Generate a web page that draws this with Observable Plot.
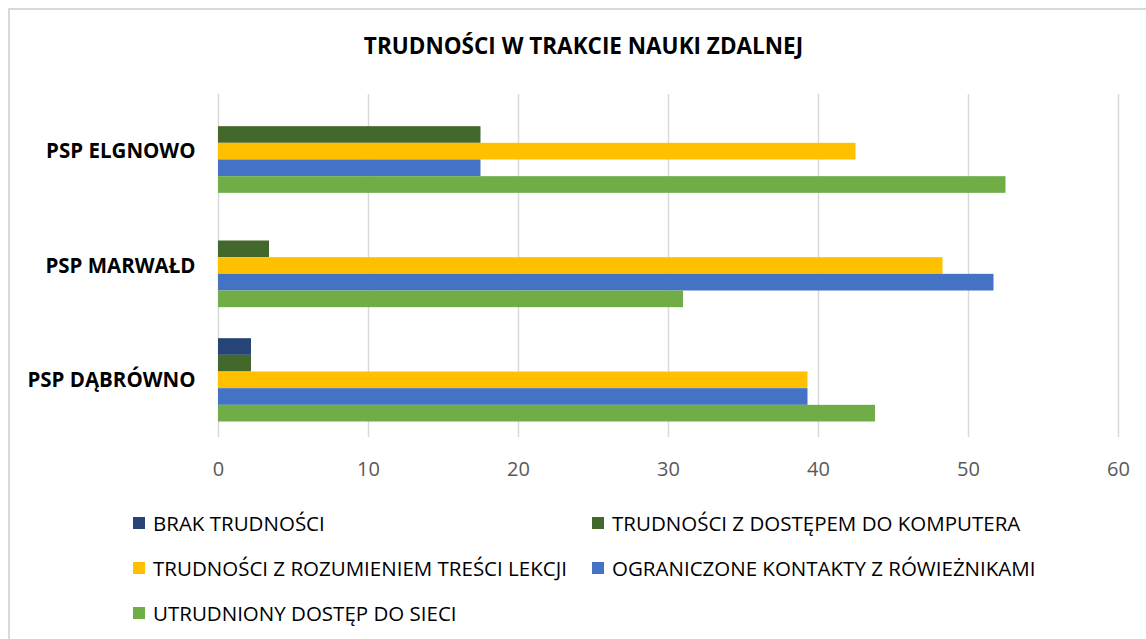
<!DOCTYPE html>
<html>
<head>
<meta charset="utf-8">
<script src="https://cdn.jsdelivr.net/npm/d3@7"></script>
<script src="https://cdn.jsdelivr.net/npm/@observablehq/plot@0.6"></script>
<style>
  html, body { margin: 0; padding: 0; background: #fff; overflow: hidden; }
  #wrap { position: relative; width: 1146px; height: 639px; overflow: hidden; font-family: "Open Sans", sans-serif; }
  #frame { position: absolute; left: 8px; top: 8px; width: 1170px; height: 700px; border: 2px solid #d9d9d9; box-sizing: border-box; }
  #title { position: absolute; left: 8px; width: 1151px; top: 30px; text-align: center; font-weight: bold; font-size: 22.5px; color: #000; line-height: 32px; }
  #chart { position: absolute; left: 0; top: 0; }
  #chart svg g[aria-label="x-axis tick label"] text, #chart svg g[aria-label="x-axis"] text { font-size: 20px; fill: #595959; font-weight: normal; }
  #chart svg g[aria-label="y-axis tick label"] text, #chart svg g[aria-label="y-axis"] text { font-size: 20.5px; fill: #000; font-weight: bold; }
  .leg { position: absolute; display: flex; align-items: center; font-size: 20.5px; color: #000; white-space: nowrap; height: 28px; }
  .sw { width: 12px; height: 12px; margin-right: 8px; flex: none; }
</style>
</head>
<body>
<div id="wrap">
  <div id="frame"></div>
  <div id="title"></div>
  <div id="chart"></div>
  <div id="legend"></div>
</div>
<script>
const titleText = "TRUDNOŚCI W TRAKCIE NAUKI ZDALNEJ";
const schools = ["PSP ELGNOWO", "PSP MARWAŁD", "PSP DĄBRÓWNO"];
const seriesNames = [
  "BRAK TRUDNOŚCI",
  "TRUDNOŚCI Z DOSTĘPEM DO KOMPUTERA",
  "TRUDNOŚCI Z ROZUMIENIEM TREŚCI LEKCJI",
  "OGRANICZONE KONTAKTY Z RÓWIEŻNIKAMI",
  "UTRUDNIONY DOSTĘP DO SIECI"
];
const seriesColors = ["#264478", "#43682B", "#FFC000", "#4472C4", "#70AD47"];
// values per series, in the order of schools
const brakTrudnosci = [0, 0, 2.2];
const dostepKomputer = [17.5, 3.4, 2.2];
const rozumienieLekcji = [42.5, 48.3, 39.3];
const kontaktyRowiesnicy = [17.5, 51.7, 39.3];
const dostepSiec = [52.5, 31.0, 43.8];
const xTicks = [0, 10, 20, 30, 40, 50, 60];

const seriesValues = [brakTrudnosci, dostepKomputer, rozumienieLekcji, kontaktyRowiesnicy, dostepSiec];

document.getElementById("title").textContent = titleText;

const W = 1146, H = 490, mTop = 94, mBottom = 53, mLeft = 218, mRight = 28;
const padIn = 0.271, padOut = 0.1355;
const rangeH = H - mTop - mBottom;
const step = rangeH / (schools.length - padIn + 2 * padOut);
const bandW = step * (1 - padIn);
const barH = bandW / seriesNames.length;

const marks = [
  Plot.ruleX(xTicks, {stroke: "#d9d9d9", strokeWidth: 1.5})
];
seriesNames.forEach((name, i) => {
  const rows = schools.map((s, j) => ({school: s, series: name, value: seriesValues[i][j]}));
  marks.push(Plot.barX(rows, {
    x: "value", y: "school", fill: seriesColors[i],
    insetTop: i * barH, insetBottom: (seriesNames.length - 1 - i) * barH
  }));
});

const chart = Plot.plot({
  width: W, height: H,
  marginTop: mTop, marginBottom: mBottom, marginLeft: mLeft, marginRight: mRight,
  style: {fontFamily: "'Open Sans', sans-serif", background: "transparent", overflow: "visible"},
  x: {domain: [0, 60], ticks: xTicks, tickSize: 0, tickPadding: 24, label: null},
  y: {domain: schools, paddingInner: padIn, paddingOuter: padOut, round: false, tickSize: 0, tickPadding: 23, label: null},
  marks
});
document.getElementById("chart").appendChild(chart);

const legPos = [
  {x: 133, y: 523}, {x: 592, y: 523},
  {x: 133, y: 568}, {x: 592, y: 568},
  {x: 133, y: 613}
];
const legend = document.getElementById("legend");
seriesNames.forEach((name, i) => {
  const d = document.createElement("div");
  d.className = "leg";
  d.style.left = legPos[i].x + "px";
  d.style.top = (legPos[i].y - 14) + "px";
  const sw = document.createElement("span");
  sw.className = "sw";
  sw.style.background = seriesColors[i];
  const t = document.createElement("span");
  t.textContent = name;
  d.appendChild(sw); d.appendChild(t);
  legend.appendChild(d);
});
</script>
</body>
</html>
